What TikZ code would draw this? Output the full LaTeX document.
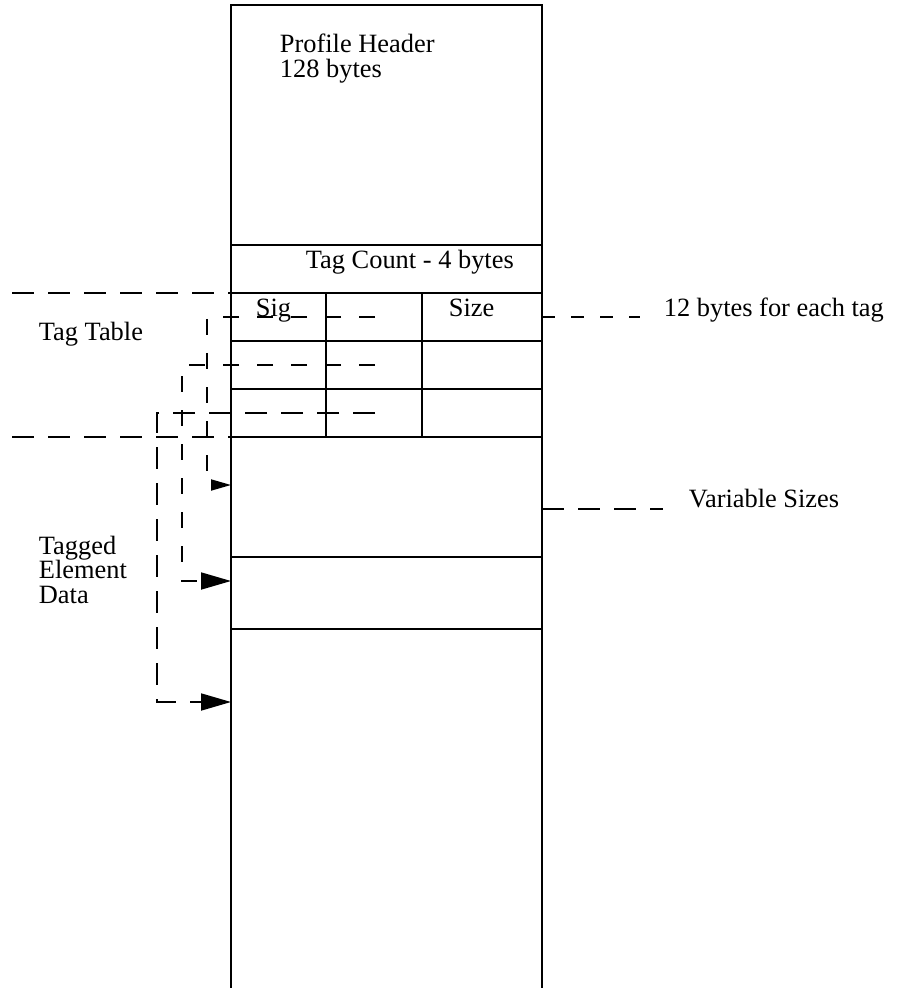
\documentclass[tikz,border=0pt]{standalone}
\usepackage{fontspec}
\setmainfont{Liberation Serif}
\usetikzlibrary{arrows.meta}

\begin{document}
\begin{tikzpicture}[
  x=0.5pt, y=-0.5pt,
  line width=0.9pt,
  every node/.style={inner sep=0pt, anchor=base west, align=left,
    font=\fontsize{13.2}{12.2}\selectfont},
  guide/.style={dash pattern=on 11pt off 7pt},
  rowguide/.style={dash pattern=on 8pt off 9pt},
  shortguide/.style={dash pattern=on 6.5pt off 8pt},
  bigtip/.style={-{Triangle[length=15pt,width=8.5pt]}},
  smalltip/.style={-{Triangle[length=10pt,width=5.5pt]}}
]
\useasboundingbox (0,0) rectangle (902,988);

% the profile column
\draw (231,988) |- (542,5) -- (542,988);
\foreach \y in {245,293,341,389,437,557,629}
  \draw (231,\y) -- (542,\y);
\foreach \x in {326,422}
  \draw (\x,293) -- (\x,437);

% end points of the guides
\coordinate (ttop) at (12,293);
\coordinate (tbot) at (12,437);
\coordinate (ctop) at (231,293);
\coordinate (cbot) at (231,437);
\coordinate (tagr) at (542,317);
\coordinate (tage) at (640,317);
\coordinate (datr) at (542,509);
\coordinate (date) at (663,509);
\coordinate (r1) at (375,317);
\coordinate (r2) at (375,365);
\coordinate (r3) at (375,413);
\coordinate (k1) at (207,485);
\coordinate (k2) at (182,581);
\coordinate (k3) at (157,702);
\coordinate (a1) at (231,485);
\coordinate (a2) at (231,581);
\coordinate (a3) at (231,702);

% labels
\node (hdr) at (279,53) {Profile Header};
\node (hdrb) at (279,78) {128 bytes};
\node (cnt) at (305,269) {Tag Count - 4 bytes};
\node (sig) at (255,317) {Sig};
\node (size) at (448,317) {Size};
\node (each) at (663,317) {12 bytes for each tag};
\node (ttab) at (38,341) {Tag Table};
\node (vsz) at (688,507) {Variable Sizes};
\node (ted) at (38,603) {Tagged\\Element\\Data};

% guides
\draw[guide] (ttop) -- (ctop);
\draw[guide] (tbot) -- (cbot);
\draw[shortguide] (tagr) -- (tage);
\draw[guide] (datr) -- (date);
\draw[rowguide, smalltip] (r1) -| (k1) -- (a1);
\draw[rowguide, bigtip] (r2) -| (k2) -- (a2);
\draw[guide, bigtip] (r3) -| (k3) -- (a3);
\end{tikzpicture}
\end{document}
